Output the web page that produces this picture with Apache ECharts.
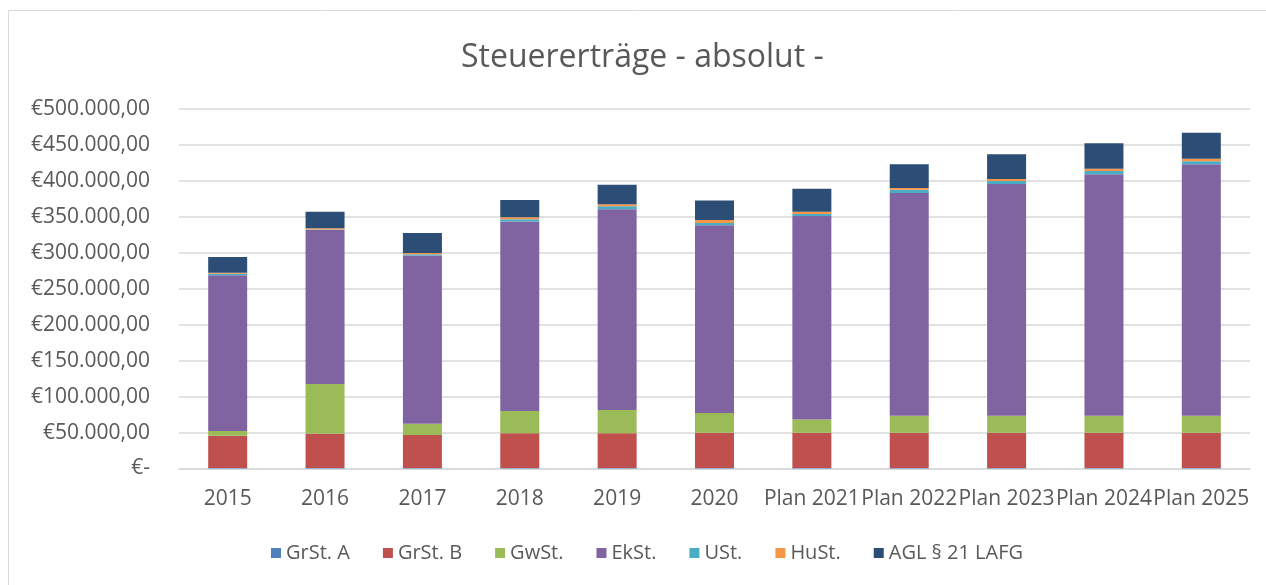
<!DOCTYPE html>
<html>
<head>
<meta charset="utf-8">
<script src="https://cdn.jsdelivr.net/npm/echarts@6/dist/echarts.min.js"></script>
<style>
html,body{margin:0;padding:0;background:#fff;}
#chart{width:1266px;height:585px;}
</style>
</head>
<body>
<div id="chart"></div>
<script>
const categories = ['2015','2016','2017','2018','2019','2020','Plan 2021','Plan 2022','Plan 2023','Plan 2024','Plan 2025'];
const seriesNames = ['GrSt. A','GrSt. B','GwSt.','EkSt.','USt.','HuSt.','AGL § 21 LAFG'];
const grStA = [800,800,800,800,800,800,800,800,800,800,800];
const grStB = [44800,47500,45700,48100,48100,48900,48900,48900,48900,48900,48900];
const gwSt  = [6400,69100,15700,31000,32300,27400,18600,23600,23600,23600,23600];
const ekSt  = [216700,214300,233900,263800,279200,261100,282800,309700,322300,336100,350000];
const uSt   = [2000,800,1800,2800,4200,3200,2900,4700,4100,4200,4200];
const huSt  = [1500,1800,1800,2800,2800,4200,3200,2300,2800,3300,3300];
const agl   = [22000,22900,27800,24000,27300,27300,32000,33300,34700,35600,36200];
const colors = ['#4f81bd','#c0504d','#9bbb59','#8064a2','#4bacc6','#f79646','#2c4d75'];
const yTicks = {min:0, max:500000, interval:50000};

const allData = [grStA, grStB, gwSt, ekSt, uSt, huSt, agl];
const font = '"Open Sans", sans-serif';
const textColor = '#595959';

function fmtEuro(v){
  if (v === 0) return '€-';
  const s = Math.round(v).toString().replace(/\B(?=(\d{3})+(?!\d))/g, '.');
  return '€' + s + ',00';
}

const chart = echarts.init(document.getElementById('chart'), null, {renderer:'canvas'});
chart.setOption({
  animation:false,
  backgroundColor:'#fff',
  color: colors,
  graphic:[{type:'rect', shape:{x:8.5,y:10.5,width:1300,height:600}, style:{fill:'none', stroke:'#d9d9d9', lineWidth:1}, silent:true}],
  title:{
    text:'Steuererträge - absolut -',
    left:456, top:37,
    textStyle:{fontFamily:font, fontSize:32, fontWeight:'normal', color:textColor}
  },
  legend:{
    data: seriesNames,
    bottom: 17,
    left:266,
    itemWidth:10, itemHeight:10, itemGap:33,
    icon:'rect',
    textStyle:{fontFamily:font, fontSize:20, color:textColor}
  },
  grid:{left:179, right:16, top:109, bottom:116.5, containLabel:false},
  xAxis:{
    type:'category',
    data: categories,
    axisTick:{show:false},
    axisLine:{lineStyle:{color:'#d9d9d9', width:1.5}},
    axisLabel:{fontFamily:font, fontSize:21, color:textColor, margin:20, interval:0}
  },
  yAxis:{
    type:'value',
    min:yTicks.min, max:yTicks.max, interval:yTicks.interval,
    axisLine:{show:false},
    axisTick:{show:false},
    splitLine:{lineStyle:{color:'#d9d9d9', width:1.5}},
    axisLabel:{fontFamily:font, fontSize:21, color:textColor, margin:29, formatter:fmtEuro}
  },
  series: seriesNames.map((n,i)=>({
    name:n, type:'bar', stack:'total', barWidth:39,
    data: allData[i],
    itemStyle:{color:colors[i]}
  }))
});
</script>
</body>
</html>
